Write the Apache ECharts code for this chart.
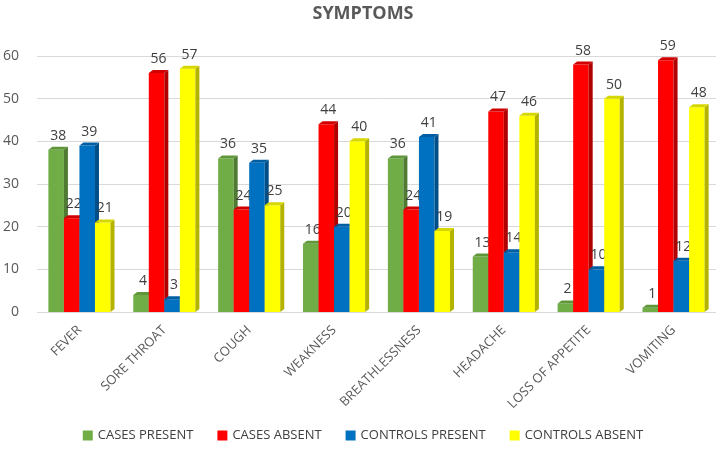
<!DOCTYPE html>
<html>
<head>
<meta charset="utf-8">
<script src="https://cdn.jsdelivr.net/npm/echarts@6/dist/echarts.min.js"></script>
<style>html,body{margin:0;padding:0;background:#fff;}#c{width:726px;height:456px;}</style>
</head>
<body>
<div id="c"></div>
<script>
var categories = ['FEVER','SORE THROAT','COUGH','WEAKNESS','BREATHLESSNESS','HEADACHE','LOSS OF APPETITE','VOMITING'];
var casesPresent = [38,4,36,16,36,13,2,1];
var casesAbsent = [22,56,24,44,24,47,58,59];
var controlsPresent = [39,3,35,20,41,14,10,12];
var controlsAbsent = [21,57,25,40,19,46,50,48];
var yTicks = [0,10,20,30,40,50,60];

var seriesDefs = [
  {name:'CASES PRESENT', data:casesPresent, front:'#70AD47', side:'#4E7A31', top:'#5E9639'},
  {name:'CASES ABSENT', data:casesAbsent, front:'#FF0000', side:'#B00000', top:'#D00000'},
  {name:'CONTROLS PRESENT', data:controlsPresent, front:'#0070C0', side:'#004E87', top:'#005EA3'},
  {name:'CONTROLS ABSENT', data:controlsAbsent, front:'#FFFF00', side:'#B3B300', top:'#D6D600'}
];

function makeRender(sIdx, def){
  return function(params, api){
    var cat = api.value(0), val = api.value(1);
    var base = api.coord([cat, 0]);
    var topP = api.coord([cat, val]);
    var band = api.size([1, 0])[0];
    var bw = band * 0.183;
    var dx = 4, dy = 3;
    var x0 = base[0] + (sIdx - 2) * bw;
    var yb = base[1], yt = topP[1];
    return {
      type:'group',
      children:[
        {type:'rect', shape:{x:x0, y:yt, width:bw, height:yb-yt}, style:{fill:def.front}},
        {type:'polygon', shape:{points:[[x0+bw,yt],[x0+bw+dx,yt-dy],[x0+bw+dx,yb-dy],[x0+bw,yb]]}, style:{fill:def.side}},
        {type:'polygon', shape:{points:[[x0,yt],[x0+bw,yt],[x0+bw+dx,yt-dy],[x0+dx,yt-dy]]}, style:{fill:def.top}},
        {type:'text', x:x0+bw/2+dx/2, y:yt-dy-4, style:{text:String(val), fill:'#404040', font:'14px "Open Sans", sans-serif', align:'center', verticalAlign:'bottom'}}
      ]
    };
  };
}

var series = seriesDefs.map(function(def, i){
  return {
    name: def.name,
    type: 'custom',
    renderItem: makeRender(i, def),
    itemStyle: {color: def.front},
    encode: {x:0, y:1},
    data: def.data.map(function(v, j){ return [j, v]; })
  };
});

var chart = echarts.init(document.getElementById('c'));
chart.setOption({
  animation:false,
  title:{text:'SYMPTOMS', left:'center', top:0, textStyle:{fontSize:18, fontWeight:'bold', color:'#595959', fontFamily:'"Open Sans", sans-serif'}},
  legend:{bottom:9, left:'center', icon:'rect', itemWidth:10, itemHeight:10, itemGap:24,
    textStyle:{fontSize:13, color:'#404040', fontFamily:'"Open Sans", sans-serif'},
    data: seriesDefs.map(function(d){return d.name;})},
  grid:{left:36, right:10, top:56, bottom:144},
  xAxis:{type:'category', data:categories, boundaryGap:true,
    axisTick:{show:false}, axisLine:{show:false},
    axisLabel:{rotate:45, interval:0, margin:16, fontSize:13, color:'#595959', fontFamily:'"Open Sans", sans-serif'}},
  yAxis:{type:'value', min:0, max:60, interval:10,
    axisLine:{show:false}, axisTick:{show:false},
    splitLine:{lineStyle:{color:'#D9D9D9'}},
    axisLabel:{margin:18, fontSize:14, color:'#595959', fontFamily:'"Open Sans", sans-serif',
      formatter:function(v){ return yTicks.indexOf(v) >= 0 ? String(v) : ''; }}},
  series: series
});
</script>
</body>
</html>
